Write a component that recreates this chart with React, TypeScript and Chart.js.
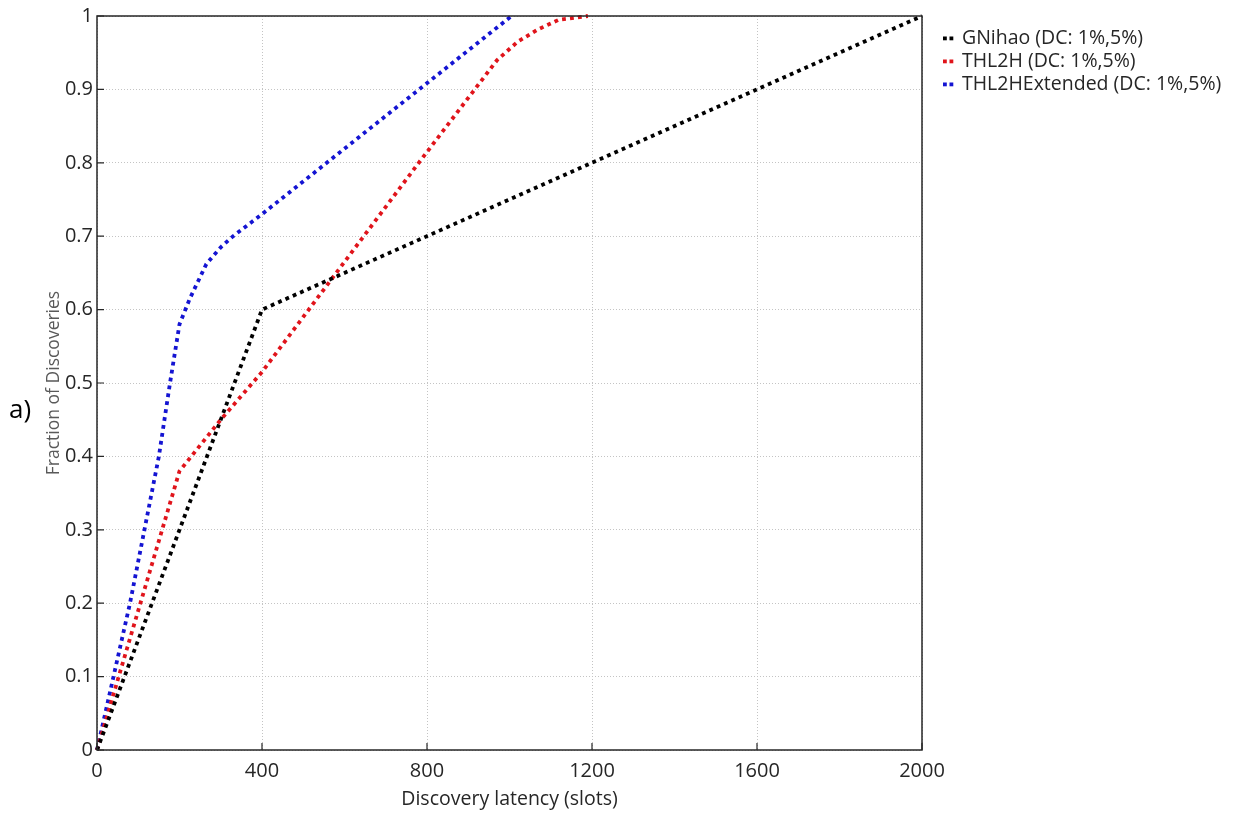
import React, { useEffect, useRef } from "react";
import { Chart, registerables } from "chart.js";

Chart.register(...registerables);

const seriesLabels = ["GNihao (DC: 1%,5%)", "THL2H (DC: 1%,5%)", "THL2HExtended (DC: 1%,5%)"];
const seriesColors = ["#000000", "#e0141b", "#1414d2"];

const gnihaoX = [0, 400, 2000];
const gnihaoY = [0, 0.6, 1];

const thl2hX = [0, 200, 300, 400, 560, 780, 970, 1020, 1070, 1120, 1190];
const thl2hY = [0, 0.38, 0.45, 0.515, 0.635, 0.8, 0.94, 0.965, 0.982, 0.995, 1];

const extX = [0, 80, 115, 150, 177, 200, 225, 265, 300, 330, 400, 1005];
const extY = [0, 0.2, 0.3, 0.4, 0.5, 0.58, 0.615, 0.662, 0.685, 0.7, 0.73, 1];

const xTicks = [0, 400, 800, 1200, 1600, 2000];
const yTicks = [0, 0.1, 0.2, 0.3, 0.4, 0.5, 0.6, 0.7, 0.8, 0.9, 1];

const xTitle = "Discovery latency (slots)";
const yTitle = "Fraction of Discoveries";
const panelLabel = "a)";

const FONT = "'Open Sans', 'Noto Sans', sans-serif";
const TEXT = "#262626";

function toPoints(xs: number[], ys: number[]) {
  return xs.map((x, i) => ({ x, y: ys[i] }));
}

const decorPlugin = {
  id: "decor",
  afterDatasetsDraw(chart: any) {
    const { ctx, chartArea } = chart;
    const { left, right, top, bottom } = chartArea;
    const xs = chart.scales.x;
    const ys = chart.scales.y;
    ctx.save();
    ctx.strokeStyle = TEXT;
    ctx.lineWidth = 1.5;
    ctx.setLineDash([]);
    ctx.strokeRect(left, top, right - left, bottom - top);
    ctx.lineWidth = 1.2;
    ctx.beginPath();
    xTicks.forEach((t) => {
      const px = xs.getPixelForValue(t);
      ctx.moveTo(px, bottom);
      ctx.lineTo(px, bottom - 7);
    });
    yTicks.forEach((t) => {
      const py = ys.getPixelForValue(t);
      ctx.moveTo(left, py);
      ctx.lineTo(left + 7, py);
    });
    ctx.stroke();
    ctx.restore();
  },
  afterDraw(chart: any) {
    const { ctx, chartArea } = chart;
    const { left, right, top, bottom } = chartArea;
    ctx.save();
    // x title
    ctx.fillStyle = TEXT;
    ctx.font = `19.5px ${FONT}`;
    ctx.textAlign = "center";
    ctx.textBaseline = "middle";
    ctx.fillText(xTitle, (left + right) / 2, 799);
    // y title
    ctx.save();
    ctx.translate(54, (top + bottom) / 2);
    ctx.rotate(-Math.PI / 2);
    ctx.fillStyle = "#595959";
    ctx.font = `17.5px ${FONT}`;
    ctx.fillText(yTitle, 0, 0);
    ctx.restore();
    // panel label
    ctx.fillStyle = "#000";
    ctx.font = `26px ${FONT}`;
    ctx.textAlign = "left";
    ctx.fillText(panelLabel, 9, 411);
    // legend
    ctx.font = `19.5px ${FONT}`;
    ctx.textBaseline = "middle";
    seriesLabels.forEach((lab, i) => {
      const y = 38.5 + 23 * i;
      ctx.fillStyle = seriesColors[i];
      ctx.fillRect(943, y - 2, 3.8, 3.8);
      ctx.fillRect(949.5, y - 2, 3.8, 3.8);
      ctx.fillStyle = TEXT;
      ctx.fillText(lab, 962, y);
    });
    ctx.restore();
  },
};

export default function App() {
  const canvasRef = useRef<HTMLCanvasElement | null>(null);

  useEffect(() => {
    const canvas = canvasRef.current;
    if (!canvas) return;
    const datasets = [
      toPoints(gnihaoX, gnihaoY),
      toPoints(thl2hX, thl2hY),
      toPoints(extX, extY),
    ].map((data, i) => ({
      label: seriesLabels[i],
      data,
      borderColor: seriesColors[i],
      backgroundColor: seriesColors[i],
      borderWidth: 3.8,
      borderDash: [3.8, 4.2],
      borderCapStyle: "butt" as const,
      pointRadius: 0,
      tension: 0,
      fill: false,
      clip: false as any,
    }));

    const chart = new Chart(canvas, {
      type: "line",
      data: { datasets },
      options: {
        responsive: false,
        animation: false,
        layout: { padding: { left: 0, top: 15, right: 315, bottom: 0 } },
        plugins: { legend: { display: false }, tooltip: { enabled: false } },
        scales: {
          x: {
            type: "linear",
            min: 0,
            max: 2000,
            afterBuildTicks: (axis: any) => {
              axis.ticks = xTicks.map((v) => ({ value: v }));
            },
            afterFit: (axis: any) => {
              axis.height = 63;
            },
            ticks: {
              color: TEXT,
              font: { family: FONT, size: 20 },
              padding: 9,
              maxRotation: 0,
              callback: (v: any) => String(v),
            },
            grid: { color: "#c4c4c4", lineWidth: 1, drawTicks: false },
            border: { display: false, dash: [1, 2] },
          },
          y: {
            type: "linear",
            min: 0,
            max: 1,
            afterBuildTicks: (axis: any) => {
              axis.ticks = yTicks.map((v) => ({ value: v }));
            },
            afterFit: (axis: any) => {
              axis.width = 97;
            },
            ticks: {
              color: TEXT,
              font: { family: FONT, size: 20 },
              padding: 4,
              callback: (v: any) => String(Math.round(Number(v) * 10) / 10),
            },
            grid: { color: "#c4c4c4", lineWidth: 1, drawTicks: false },
            border: { display: false, dash: [1, 2] },
          },
        },
      },
      plugins: [decorPlugin],
    });
    return () => chart.destroy();
  }, []);

  return (
    <div style={{ position: "absolute", left: 0, top: 0, width: 1237, height: 813, background: "#fff" }}>
      <canvas ref={canvasRef} width={1237} height={813} style={{ display: "block" }} />
    </div>
  );
}
